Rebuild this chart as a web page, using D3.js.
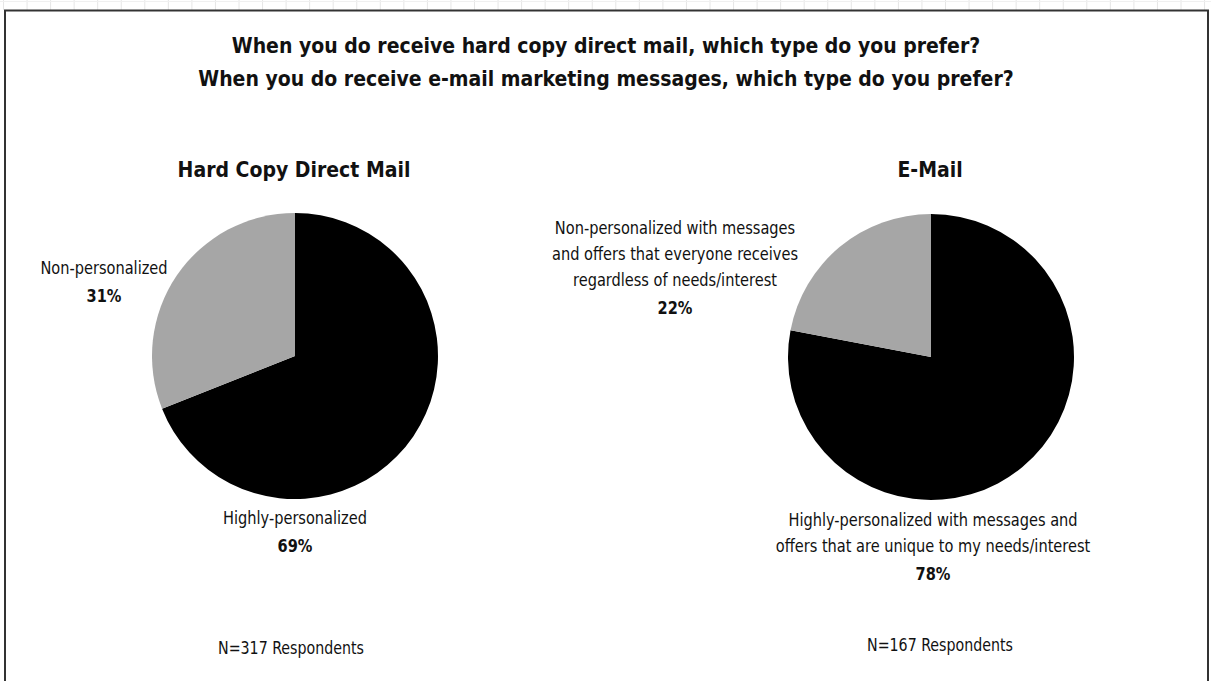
<!DOCTYPE html>
<html><head><meta charset="utf-8">
<script src="https://cdn.jsdelivr.net/npm/d3@7"></script>
<style>
html,body{margin:0;padding:0;background:#fff;}
svg{display:block;}
text{font-family:"Liberation Sans Narrow","DejaVu Sans Condensed","Roboto",sans-serif;fill:#111;}
</style></head>
<body>
<svg id="c" width="1211" height="681"></svg>
<script>
const titles = ["When you do receive hard copy direct mail, which type do you prefer?",
                "When you do receive e-mail marketing messages, which type do you prefer?"];
const chartNames = ["Hard Copy Direct Mail", "E-Mail"];
const categories = ["Highly-personalized", "Non-personalized"];
const mailValues = [69, 31];
const emailValues = [78, 22];
const mailLabels = [["Highly-personalized"], ["Non-personalized"]];
const emailLabels = [["Highly-personalized with messages and", "offers that are unique to my needs/interest"],
                     ["Non-personalized with messages", "and offers that everyone receives", "regardless of needs/interest"]];
const respondents = ["N=317 Respondents", "N=167 Respondents"];

const svg = d3.select("#c");
const W = 1211, H = 681;

// faint grid at top strip
const gridG = svg.append("g");
for (let x = 3.5; x < W; x += 23.55) {
  gridG.append("line").attr("x1", x).attr("x2", x).attr("y1", 0).attr("y2", 10)
    .attr("stroke", "#e6e6e6").attr("stroke-width", 1);
}
gridG.append("line").attr("x1",0).attr("x2",W).attr("y1",1.5).attr("y2",1.5).attr("stroke","#f0f0f0");

// frame
svg.append("rect").attr("x", 5).attr("y", 10.5).attr("width", 1203).attr("height", 700)
  .attr("fill", "#fff").attr("stroke", "#333").attr("stroke-width", 2);

// titles
svg.selectAll("text.title").data(titles).join("text")
  .attr("class", "title")
  .attr("x", 606).attr("y", (d, i) => 53 + i * 33)
  .attr("text-anchor", "middle").attr("font-size", 21).attr("font-weight", "bold")
  .text(d => d);

const color = d3.scaleOrdinal().domain(categories).range(["#000000", "#a6a6a6"]);
const pie = d3.pie().sort(null).value(d => d.value);

const charts = [
  { name: chartNames[0], values: mailValues, labels: mailLabels, n: respondents[0], cx: 295, cy: 356, r: 143,
    titleX: 294, labelPos: [{x: 295, y: 524}, {x: 104, y: 274}], nPos: {x: 291, y: 654} },
  { name: chartNames[1], values: emailValues, labels: emailLabels, n: respondents[1], cx: 931, cy: 357, r: 143,
    titleX: 930, labelPos: [{x: 933, y: 526}, {x: 675, y: 234}], nPos: {x: 940, y: 651} }
];

charts.forEach(ch => {
  const g = svg.append("g");
  g.append("text").attr("x", ch.titleX).attr("y", 177).attr("text-anchor", "middle")
    .attr("font-size", 21).attr("font-weight", "bold").text(ch.name);

  const data = categories.map((c, i) => ({ cat: c, value: ch.values[i] }));
  const arc = d3.arc().innerRadius(0).outerRadius(ch.r);
  g.append("g").attr("transform", `translate(${ch.cx},${ch.cy})`)
    .selectAll("path").data(pie(data)).join("path")
    .attr("d", arc).attr("fill", d => color(d.data.cat));

  data.forEach((d, i) => {
    const p = ch.labelPos[i];
    const t = g.append("text").attr("transform", `translate(${p.x},${p.y}) scale(0.9,1)`)
      .attr("text-anchor", "middle").attr("font-size", 18);
    ch.labels[i].forEach((line, k) => {
      t.append("tspan").attr("x", 0).attr("dy", k === 0 ? 0 : 26).text(line);
    });
    t.append("tspan").attr("x", 0).attr("dy", 28).attr("font-weight", "bold").text(d.value + "%");
  });

  g.append("text").attr("transform", `translate(${ch.nPos.x},${ch.nPos.y}) scale(0.93,1)`)
    .attr("text-anchor", "middle").attr("font-size", 17).text(ch.n);
});
</script>
</body></html>
